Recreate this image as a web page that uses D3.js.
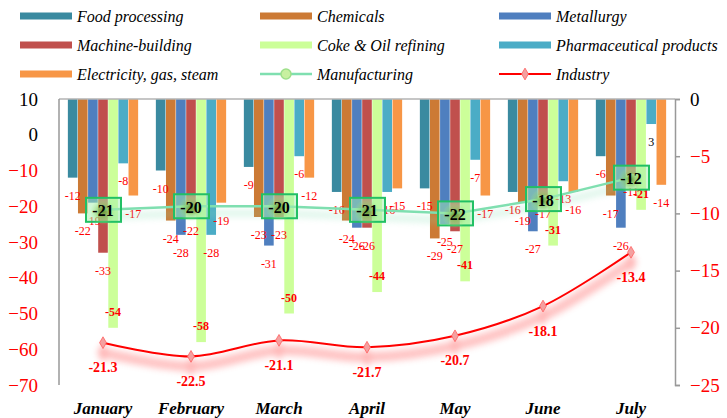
<!DOCTYPE html>
<html>
<head>
<meta charset="utf-8">
<script src="https://d3js.org/d3.v7.min.js"></script>
<style>
  body { margin: 0; background: #fff; }
  text { font-family: "Liberation Serif", "Times New Roman", serif; }
</style>
</head>
<body>
<svg id="chart" width="727" height="418"></svg>
<script>
  "use strict";
  const WIDTH = 727, HEIGHT = 418;

  // data
  const months = ["January", "February", "March", "April", "May", "June", "July"];
  const seriesNames = ["Food processing", "Chemicals", "Metallurgy", "Machine-building",
    "Coke & Oil refining", "Pharmaceutical products", "Electricity, gas, steam"];
  const food = [-12, -10, -9, -16, -15, -16, -6];
  const chemicals = [-22, -24, -23, -24, -29, -19, -17];
  const metallurgy = [-19, -28, -31, -26, -25, -27, -26];
  const machine = [-33, -22, -23, -26, -27, -17, -11];
  const coke = [-54, -58, -50, -44, -41, -31, -21];
  const pharma = [-8, -28, -6, -16, -7, -13, 3];
  const electricity = [-17, -19, -12, -15, -17, -16, -14];
  const manufacturing = [-21, -20, -20, -21, -22, -18, -12];
  const industry = [-21.3, -22.5, -21.1, -21.7, -20.7, -18.1, -13.4];
  const leftTicks = [10, 0, -10, -20, -30, -40, -50, -60, -70];
  const rightTicks = [0, -5, -10, -15, -20, -25];

  const barSeries = [food, chemicals, metallurgy, machine, coke, pharma, electricity];
  const barColors = ["#3a8aa0", "#cc7a35", "#4f7fbf", "#c0504d", "#ccff99", "#4bacc6", "#f79646"];
  const COKE = 4;

  const PLOT_L = 59, PLOT_R = 675, PLOT_T = 99, PLOT_B = 385;

  const svg = d3.select("#chart");
  const defs = svg.append("defs");

  defs.append("filter").attr("id", "blur3")
    .attr("x", "-20%").attr("y", "-50%").attr("width", "140%").attr("height", "200%")
    .append("feGaussianBlur").attr("stdDeviation", 3);

  const glow = defs.append("radialGradient").attr("id", "glow");
  glow.append("stop").attr("offset", "0%").attr("stop-color", "#5e8f2a").attr("stop-opacity", 0.9);
  glow.append("stop").attr("offset", "45%").attr("stop-color", "#86c85a").attr("stop-opacity", 0.6);
  glow.append("stop").attr("offset", "100%").attr("stop-color", "#a8f08a").attr("stop-opacity", 0);

  const x0 = d3.scaleBand().domain(months).range([PLOT_L, PLOT_R])
    .paddingInner(0.19).paddingOuter(0.095);
  const x1 = d3.scaleBand().domain(d3.range(barSeries.length))
    .range([0, x0.bandwidth()]).padding(0.05);
  const yL = d3.scaleLinear().domain([-70, 10]).range([PLOT_B, PLOT_T]);
  const yR = d3.scaleLinear().domain([-25, 0]).range([PLOT_B, PLOT_T]);
  const cx = (m) => x0(m) + x0.bandwidth() / 2;

  // Bars (hang from the top axis at 10)
  const bars = [];
  barSeries.forEach((vals, s) => vals.forEach((v, i) => bars.push({ s, v, m: months[i] })));

  svg.append("g").selectAll("rect").data(bars).join("rect")
    .attr("x", d => x0(d.m) + x1(d.s))
    .attr("width", x1.bandwidth())
    .attr("y", d => Math.min(yL(10), yL(d.v)))
    .attr("height", d => Math.abs(yL(d.v) - yL(10)))
    .attr("fill", d => barColors[d.s]);

  svg.append("g").selectAll("text").data(bars).join("text")
    .attr("x", d => x0(d.m) + x1(d.s) + x1.bandwidth() / 2)
    .attr("y", d => d.s === COKE ? yL(d.v) - 16 : yL(d.v) + 18)
    .attr("text-anchor", "middle")
    .attr("dominant-baseline", "central")
    .attr("font-size", 12)
    .attr("font-weight", d => d.s === COKE ? "bold" : "normal")
    .attr("fill", d => d.v < 0 ? "#ff0000" : "#000")
    .text(d => d.v);

  // Axes
  const axisColor = "#999";
  svg.append("line").attr("x1", PLOT_L).attr("x2", PLOT_R).attr("y1", PLOT_T).attr("y2", PLOT_T)
    .attr("stroke", "#b3b3b3").attr("stroke-width", 1.5);
  svg.append("line").attr("x1", PLOT_L).attr("x2", PLOT_L).attr("y1", PLOT_T).attr("y2", PLOT_B)
    .attr("stroke", axisColor).attr("stroke-width", 1.5);

  const rightAxis = svg.append("g").attr("transform", `translate(${PLOT_R},0)`)
    .call(d3.axisRight(yR).tickValues(rightTicks).tickSize(5).tickPadding(10));
  rightAxis.select(".domain").attr("stroke", axisColor).attr("stroke-width", 1.5);
  rightAxis.selectAll(".tick line").attr("stroke", axisColor).attr("stroke-width", 1.5);
  rightAxis.selectAll(".tick text")
    .style("font-family", "'Liberation Serif', serif").attr("font-size", 19)
    .attr("fill", d => d < 0 ? "#ff0000" : "#000");

  const leftAxis = svg.append("g").attr("transform", `translate(${PLOT_L},0)`)
    .call(d3.axisLeft(yL).tickValues(leftTicks).tickSize(0).tickPadding(21));
  leftAxis.select(".domain").remove();
  leftAxis.selectAll(".tick text")
    .style("font-family", "'Liberation Serif', serif").attr("font-size", 19)
    .attr("fill", d => d < 0 ? "#ff0000" : "#000");

  // Category labels
  svg.append("g").selectAll("text").data(months).join("text")
    .attr("x", d => cx(d))
    .attr("y", 408)
    .attr("text-anchor", "middle")
    .attr("dominant-baseline", "central")
    .attr("font-size", 17)
    .attr("font-style", "italic")
    .attr("font-weight", "bold")
    .text(d => d);

  // Manufacturing line (left axis)
  const manLine = d3.line().x((d, i) => cx(months[i])).y(d => yL(d));
  svg.append("path").datum(manufacturing)
    .attr("d", manLine)
    .attr("transform", "translate(0,7)")
    .attr("fill", "none").attr("stroke", "#7fdcae").attr("stroke-width", 7)
    .attr("opacity", 0.25).attr("filter", "url(#blur3)");
  svg.append("path").datum(manufacturing)
    .attr("d", manLine)
    .attr("fill", "none").attr("stroke", "#7fdfb0").attr("stroke-width", 2.5);

  const manG = svg.append("g").selectAll("g").data(manufacturing).join("g")
    .attr("transform", (d, i) => `translate(${cx(months[i])},${yL(d)})`);
  manG.append("rect")
    .attr("x", -17).attr("y", -12).attr("width", 35).attr("height", 24)
    .attr("fill", "#a6f0b0").attr("fill-opacity", 0.5)
    .attr("stroke", "#22c065").attr("stroke-width", 2);
  manG.append("circle").attr("r", 13).attr("cy", 2).attr("fill", "url(#glow)");
  manG.append("text")
    .attr("text-anchor", "middle").attr("dominant-baseline", "central")
    .attr("y", 1)
    .attr("font-size", 16).attr("font-weight", "bold").attr("fill", "#000")
    .text(d => d);

  // Industry line (right axis)
  const indLine = d3.line().x((d, i) => cx(months[i])).y(d => yR(d)).curve(d3.curveCatmullRom);
  const diamond = d3.symbol().type(d3.symbolDiamond).size(40);

  const indShadow = svg.append("g").attr("transform", "translate(0,10)")
    .attr("opacity", 0.45).attr("filter", "url(#blur3)");
  indShadow.append("path").datum(industry)
    .attr("d", indLine)
    .attr("fill", "none").attr("stroke", "#ff7a7a").attr("stroke-width", 10);
  indShadow.selectAll("path.m").data(industry).join("path").attr("class", "m")
    .attr("d", d3.symbol().type(d3.symbolDiamond).size(120))
    .attr("transform", (d, i) => `translate(${cx(months[i])},${yR(d)})`)
    .attr("fill", "#ff6060");

  svg.append("path").datum(industry)
    .attr("d", indLine)
    .attr("fill", "none").attr("stroke", "#ff0000").attr("stroke-width", 2);

  svg.append("g").selectAll("path").data(industry).join("path")
    .attr("d", diamond)
    .attr("transform", (d, i) => `translate(${cx(months[i])},${yR(d)})`)
    .attr("fill", "#f4a0a0").attr("stroke", "#ff6060").attr("stroke-width", 0.8);

  svg.append("g").selectAll("text").data(industry).join("text")
    .attr("x", (d, i) => cx(months[i]))
    .attr("y", d => yR(d) + 25)
    .attr("text-anchor", "middle").attr("dominant-baseline", "central")
    .attr("font-size", 14).attr("font-weight", "bold").attr("fill", "#ff0000")
    .text(d => d.toFixed(1));

  // Legend
  const legendItems = seriesNames.map((n, i) => ({ name: n, type: "bar", color: barColors[i] }))
    .concat([{ name: "Manufacturing", type: "man" }, { name: "Industry", type: "ind" }]);
  const legendCols = [20, 260, 499];
  const legendRows = [16, 45, 74];

  const lg = svg.append("g").selectAll("g").data(legendItems).join("g")
    .attr("transform", (d, i) => `translate(${legendCols[i % 3]},${legendRows[Math.floor(i / 3)]})`);

  lg.filter(d => d.type === "bar").append("rect")
    .attr("x", 0).attr("y", -3.5).attr("width", 52).attr("height", 7)
    .attr("fill", d => d.color);

  const manLeg = lg.filter(d => d.type === "man");
  manLeg.append("line").attr("x1", 0).attr("x2", 52).attr("y1", 0).attr("y2", 0)
    .attr("stroke", "#7fdfb0").attr("stroke-width", 2.5);
  manLeg.append("circle").attr("cx", 26).attr("r", 5)
    .attr("fill", "#c8f0a0").attr("stroke", "#9ee08a").attr("stroke-width", 1.5);

  const indLeg = lg.filter(d => d.type === "ind");
  indLeg.append("line").attr("x1", 0).attr("x2", 52).attr("y1", 0).attr("y2", 0)
    .attr("stroke", "#ff0000").attr("stroke-width", 2);
  indLeg.append("path").attr("d", diamond).attr("transform", "translate(26,0)")
    .attr("fill", "#f4a0a0").attr("stroke", "#ff6060").attr("stroke-width", 0.8);

  lg.append("text")
    .attr("x", 57).attr("y", 0)
    .attr("dominant-baseline", "central")
    .attr("font-size", 16).attr("font-style", "italic")
    .text(d => d.name);
</script>
</body>
</html>
